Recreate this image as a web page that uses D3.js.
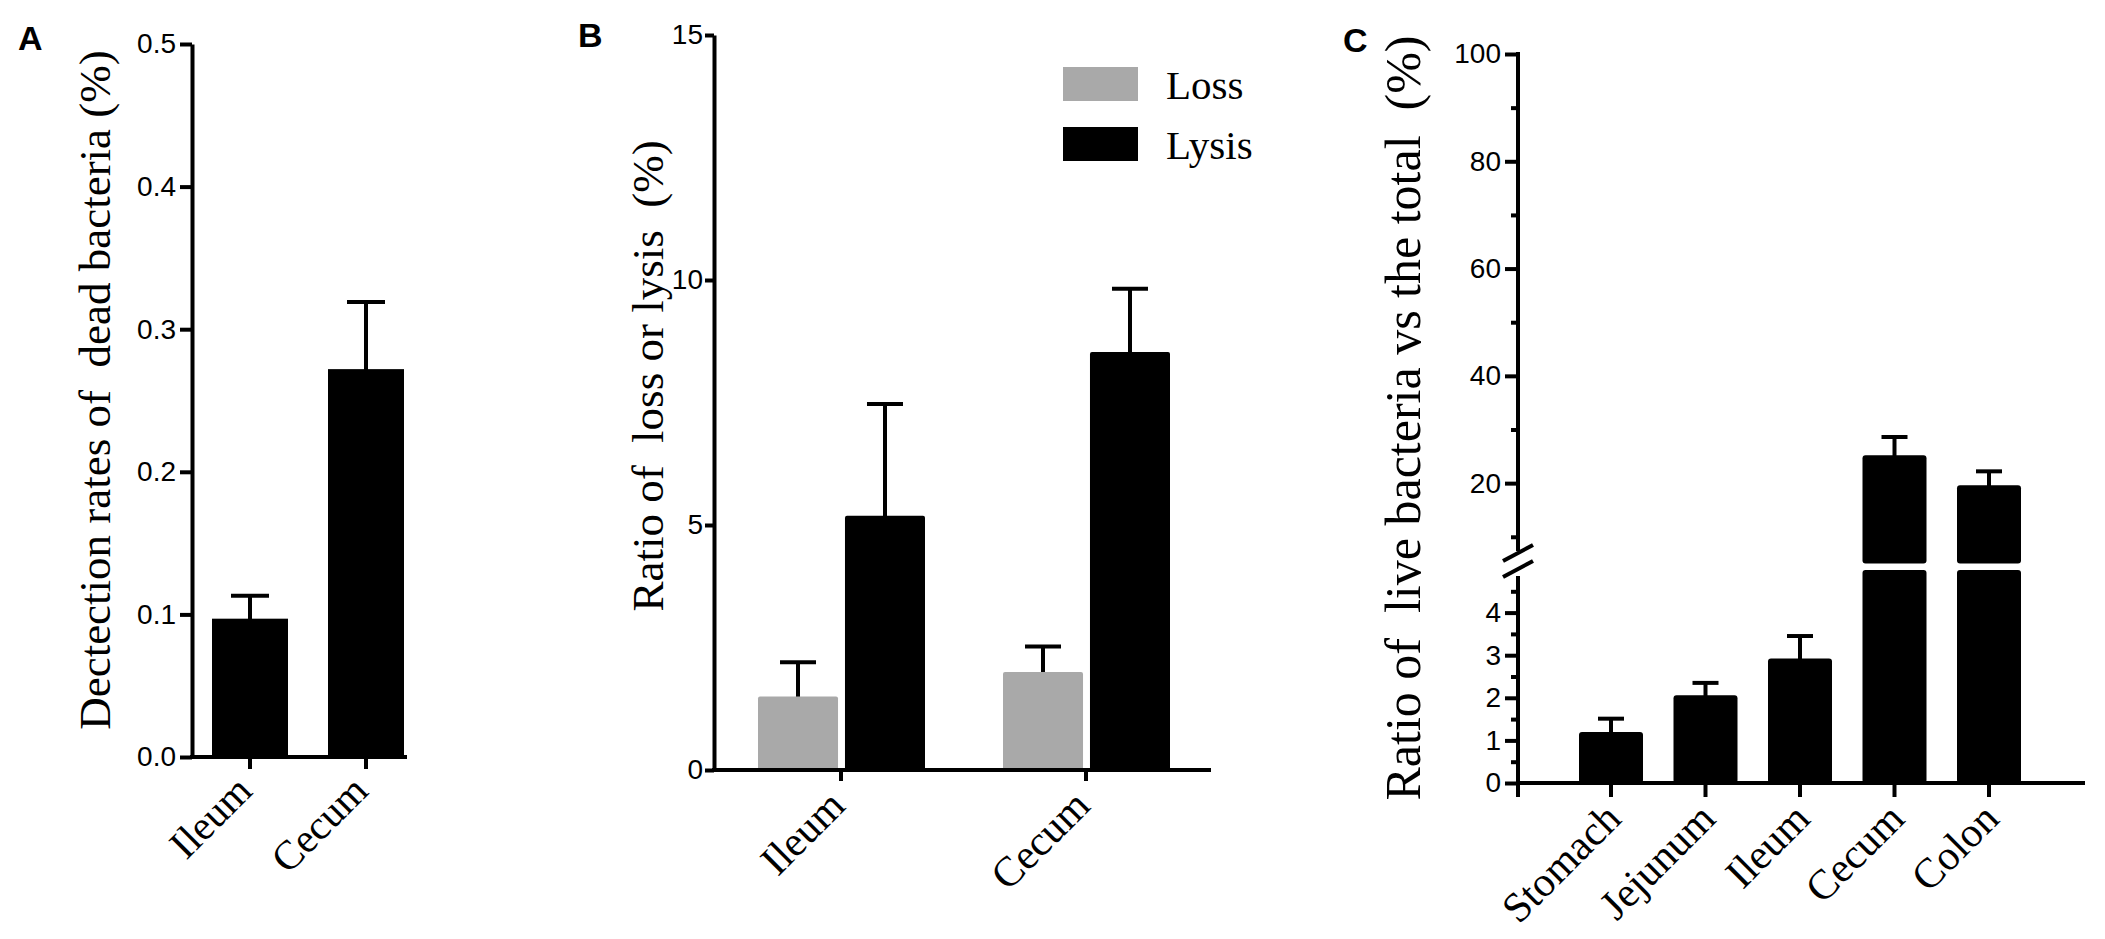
<!DOCTYPE html>
<html>
<head>
<meta charset="utf-8">
<style>
  body { margin: 0; background: #fff; }
  svg { display: block; }
  .serif { font-family: "Liberation Serif", "Times New Roman", serif; white-space: pre; }
  .letter { font-family: "Liberation Sans", Arial, sans-serif; font-weight: bold; }
</style>
</head>
<body>
<script src="https://d3js.org/d3.v7.min.js"></script>
<script>

// panel A: dead bacteria detection
var sitesA = ["Ileum", "Cecum"];
var deadRate = [0.097, 0.272];
var deadRateErr = [0.016, 0.047];
var ticksA = [0, 0.1, 0.2, 0.3, 0.4, 0.5];

// panel B: loss / lysis
var sitesB = ["Ileum", "Cecum"];
var seriesB = ["Loss", "Lysis"];
var lossRatio = [1.5, 2.0];
var lossErr = [0.7, 0.52];
var lysisRatio = [5.19, 8.53];
var lysisErr = [2.28, 1.29];
var ticksB = [0, 5, 10, 15];

// panel C: live bacteria vs total
var sitesC = ["Stomach", "Jejunum", "Ileum", "Cecum", "Colon"];
var liveRatio = [1.2, 2.06, 2.92, 25.2, 19.6];
var liveErr = [0.31, 0.29, 0.53, 3.4, 2.6];
var ticksCLow = [0, 1, 2, 3, 4];
var minorCLow = [0.5, 1.5, 2.5, 3.5, 4.5];
var ticksCHigh = [20, 40, 60, 80, 100];
var minorCHigh = [10, 30, 50, 70, 90];

var width = 2105,
    height = 939,
    sw = 4,
    tickFont = 28;

var svg = d3.select("body").append("svg")
    .attr("width", width)
    .attr("height", height);

svg.append("rect").attr("width", width).attr("height", height).attr("fill", "#fff");

function styleAxis(g) {
  g.attr("font-family", "Liberation Sans, Arial, sans-serif")
   .attr("font-size", tickFont);
  g.selectAll("line, path").attr("stroke", "#000").attr("stroke-width", sw);
  g.selectAll("text").attr("fill", "#000");
}

function hline(x1, x2, y) {
  svg.append("line").attr("x1", x1).attr("x2", x2).attr("y1", y).attr("y2", y)
    .attr("stroke", "#000").attr("stroke-width", sw);
}

function vline(x, y1, y2) {
  svg.append("line").attr("x1", x).attr("x2", x).attr("y1", y1).attr("y2", y2)
    .attr("stroke", "#000").attr("stroke-width", sw);
}

function errBar(x, yTop, yBase, cap) {
  vline(x, yBase, yTop);
  hline(x - cap / 2, x + cap / 2, yTop);
}

function xLabel(x, y, txt, size) {
  svg.append("text").attr("class", "serif")
    .attr("transform", "translate(" + x + "," + y + ") rotate(-45)")
    .attr("text-anchor", "end")
    .attr("font-size", size)
    .text(txt);
}

function yTitle(x, y, txt, size) {
  svg.append("text").attr("class", "serif")
    .attr("transform", "translate(" + x + "," + y + ") rotate(-90)")
    .attr("text-anchor", "middle")
    .attr("font-size", size)
    .text(txt);
}

function letter(x, y, txt) {
  svg.append("text").attr("class", "letter").attr("x", x).attr("y", y)
    .attr("font-size", 34).text(txt);
}

// ---------- Panel A ----------
var axA = 192, baseA = 757;
var yA = d3.scaleLinear().domain([0, 0.5]).range([baseA, 44]);
var xA = d3.scalePoint().domain(sitesA).range([250, 366]);
var bwA = 76;

svg.selectAll(".barA")
    .data(sitesA)
  .enter().append("rect")
    .attr("class", "barA")
    .attr("x", function(d) { return xA(d) - bwA / 2; })
    .attr("width", bwA)
    .attr("y", function(d, i) { return yA(deadRate[i]); })
    .attr("height", function(d, i) { return baseA - yA(deadRate[i]); })
    .attr("fill", "#000");

sitesA.forEach(function(d, i) {
  errBar(xA(d), yA(deadRate[i] + deadRateErr[i]), yA(deadRate[i]) + 2, 38);
});

svg.append("g")
    .attr("transform", "translate(" + axA + ",0)")
    .call(d3.axisLeft(yA).tickValues(ticksA).tickFormat(d3.format(".1f"))
      .tickSize(12).tickSizeOuter(0).tickPadding(4))
    .call(styleAxis);

hline(axA - 2, 407, baseA);
sitesA.forEach(function(d) { vline(xA(d), baseA, baseA + 12); });
sitesA.forEach(function(d) { xLabel(xA(d) + 4, baseA + 36, d, 41); });

yTitle(110, 390, "Dectection rates of  dead bacteria (%)", 45);
letter(18, 50, "A");

// ---------- Panel B ----------
var axB = 714, baseB = 770;
var yB = d3.scaleLinear().domain([0, 15]).range([baseB, 35]);
var x0B = d3.scalePoint().domain(sitesB).range([841, 1086]);
var x1B = d3.scaleBand().domain(seriesB).range([-83, 84]).paddingInner(0.08);
var colorB = d3.scaleOrdinal().domain(seriesB).range(["#a9a9a9", "#000"]);
var valsB = { "Loss": lossRatio, "Lysis": lysisRatio };
var errsB = { "Loss": lossErr, "Lysis": lysisErr };

sitesB.forEach(function(site, i) {
  seriesB.forEach(function(s) {
    var v = valsB[s][i], e = errsB[s][i];
    var cx = x0B(site) + x1B(s) + x1B.bandwidth() / 2;
    errBar(cx, yB(v + e), yB(v) + 2, 36);
    svg.append("rect")
      .attr("x", x0B(site) + x1B(s))
      .attr("width", x1B.bandwidth())
      .attr("y", yB(v))
      .attr("height", baseB - yB(v))
      .attr("rx", 2)
      .attr("fill", colorB(s));
  });
});

svg.append("g")
    .attr("transform", "translate(" + axB + ",0)")
    .call(d3.axisLeft(yB).tickValues(ticksB).tickSize(9).tickSizeOuter(0).tickPadding(2))
    .call(styleAxis);

hline(axB - 2, 1211, baseB);
sitesB.forEach(function(d) { vline(x0B(d), baseB, baseB + 11); });
sitesB.forEach(function(d) { xLabel(x0B(d) + 6, baseB + 38, d, 42); });

yTitle(663, 376, "Ratio of  loss or lysis  (%)", 45);
letter(578, 47, "B");

// legend
var legB = svg.append("g");
seriesB.forEach(function(s, i) {
  legB.append("rect")
    .attr("x", 1063).attr("y", 67 + i * 60)
    .attr("width", 75).attr("height", 34)
    .attr("fill", colorB(s));
  legB.append("text").attr("class", "serif")
    .attr("x", 1166).attr("y", 99 + i * 60)
    .attr("font-size", 41)
    .text(s);
});

// ---------- Panel C ----------
var axC = 1518, baseC = 783;
var yLow = d3.scaleLinear().domain([0, 5]).range([baseC, 570]);
var yHigh = d3.scaleLinear().domain([5, 100]).range([563.6, 54]);
var xC = d3.scalePoint().domain(sitesC).range([1611, 1989]);
var bwC = 64;

sitesC.forEach(function(d, i) {
  var v = liveRatio[i], e = liveErr[i];
  var cx = xC(d);
  if (v <= 5) {
    errBar(cx, yLow(v + e), yLow(v) + 2, 26);
    svg.append("rect").attr("x", cx - bwC / 2).attr("width", bwC)
      .attr("y", yLow(v)).attr("height", baseC - yLow(v))
      .attr("rx", 3).attr("fill", "#000");
  } else {
    errBar(cx, yHigh(v + e), yHigh(v) + 2, 26);
    svg.append("rect").attr("x", cx - bwC / 2).attr("width", bwC)
      .attr("y", yLow(5)).attr("height", baseC - yLow(5))
      .attr("rx", 3).attr("fill", "#000");
    svg.append("rect").attr("x", cx - bwC / 2).attr("width", bwC)
      .attr("y", yHigh(v)).attr("height", yHigh(5) - yHigh(v))
      .attr("rx", 3).attr("fill", "#000");
  }
});

var gLow = svg.append("g")
    .attr("transform", "translate(" + axC + ",0)")
    .call(d3.axisLeft(yLow).tickValues(ticksCLow).tickFormat(d3.format("d"))
      .tickSize(13).tickSizeOuter(0).tickPadding(4))
    .call(styleAxis);
gLow.select(".domain").remove();

var gLowMinor = svg.append("g")
    .attr("transform", "translate(" + axC + ",0)")
    .call(d3.axisLeft(yLow).tickValues(minorCLow).tickSize(7).tickFormat(""))
    .call(styleAxis);
gLowMinor.select(".domain").remove();

var gHigh = svg.append("g")
    .attr("transform", "translate(" + axC + ",0)")
    .call(d3.axisLeft(yHigh).tickValues(ticksCHigh).tickFormat(d3.format("d"))
      .tickSize(13).tickSizeOuter(0).tickPadding(4))
    .call(styleAxis);
gHigh.select(".domain").remove();

var gHighMinor = svg.append("g")
    .attr("transform", "translate(" + axC + ",0)")
    .call(d3.axisLeft(yHigh).tickValues(minorCHigh).tickSize(7).tickFormat(""))
    .call(styleAxis);
gHighMinor.select(".domain").remove();

vline(axC, baseC + 14, 576);
vline(axC, 551, yHigh(100) - 2);

// axis break marks
[553, 569].forEach(function(y) {
  svg.append("line")
    .attr("x1", axC - 15).attr("y1", y + 8)
    .attr("x2", axC + 15).attr("y2", y - 8)
    .attr("stroke", "#000").attr("stroke-width", sw);
});

hline(axC - 2, 2085, baseC);
sitesC.forEach(function(d) { vline(xC(d), baseC, baseC + 14); });
sitesC.forEach(function(d) { xLabel(xC(d) + 12, baseC + 38, d, 42); });

yTitle(1420, 418, "Ratio of  live bacteria vs the total  (%)", 50);
letter(1343, 52, "C");

</script>
</body>
</html>
